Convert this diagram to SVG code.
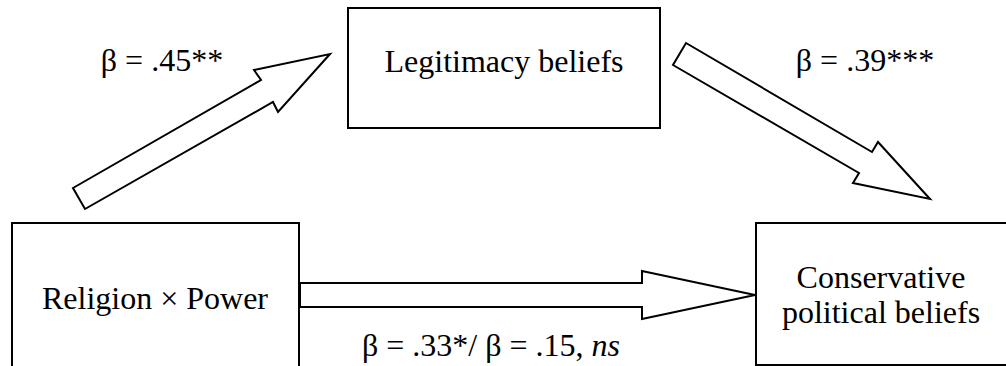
<svg xmlns="http://www.w3.org/2000/svg" width="1006" height="366" viewBox="0 0 1006 366">
<style>
.box{fill:#fff;stroke:#000;stroke-width:2}
.arr{fill:#fff;stroke:#000;stroke-width:2}
</style>
<rect width="1006" height="366" fill="#fff"/>
<g id="connectors">
<polygon class="arr" points="73,188 261,80 254,70 330,54 278,112 273,102 85,209"/>
<polygon class="arr" points="686,43 872,152 878,142 930,199 853,183 859,173 673,65"/>
<polygon class="arr" points="300,283 642,283 642,271 755,295 642,319 642,307 300,307"/>
</g>
<g id="node-legitimacy">
<rect class="box" x="348" y="8" width="312" height="120"/>
<text x="504" y="72" font-family="Liberation Serif" font-size="32" text-anchor="middle">Legitimacy beliefs</text>
</g>
<g id="node-religion">
<rect class="box" x="12" y="223" width="287" height="160"/>
<text x="155" y="309" font-family="Liberation Serif" font-size="32" text-anchor="middle">Religion &#215; Power</text>
</g>
<g id="node-conservative">
<rect class="box" x="756" y="223" width="270" height="142"/>
<text x="881" y="288" font-family="Liberation Serif" font-size="32" text-anchor="middle">Conservative</text>
<text x="881" y="323" font-family="Liberation Serif" font-size="32" text-anchor="middle">political beliefs</text>
</g>
<g id="labels">
<text x="162" y="71" font-family="Liberation Serif" font-size="32" text-anchor="middle">&#946; = .45**</text>
<text x="865" y="71" font-family="Liberation Serif" font-size="32" text-anchor="middle">&#946; = .39***</text>
<text x="491" y="356" font-family="Liberation Serif" font-size="32" text-anchor="middle">&#946; = .33*/ &#946; = .15, <tspan font-style="italic">ns</tspan></text>
</g>
</svg>
